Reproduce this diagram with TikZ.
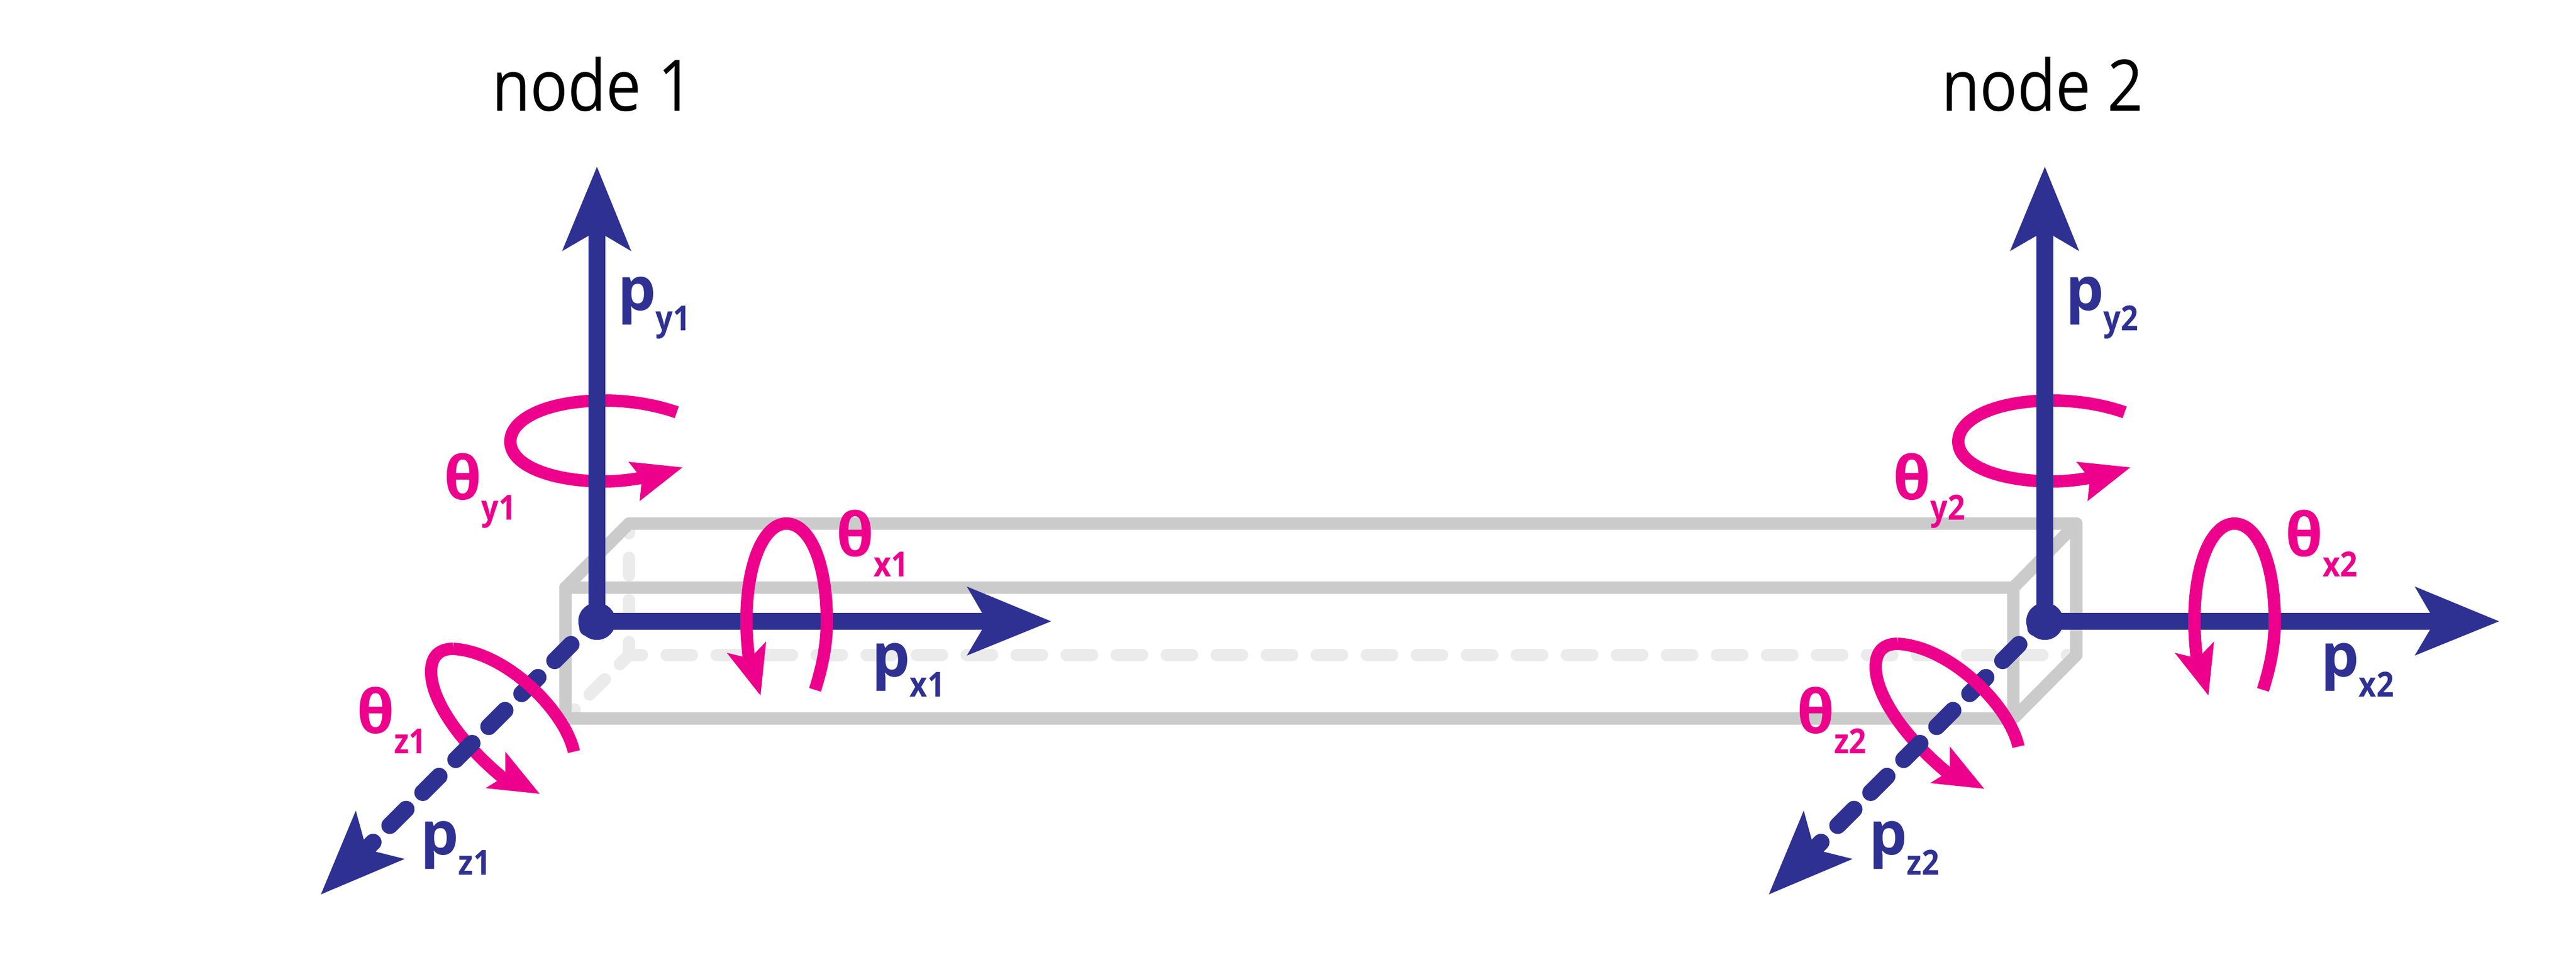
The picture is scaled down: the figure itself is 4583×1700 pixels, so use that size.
\documentclass[tikz,border=0pt]{standalone}
\usepackage{fontspec}
\setmainfont{Open Sans}
\newfontfamily\lab[FakeStretch=0.88]{Open Sans}
\definecolor{axisblue}{HTML}{2E3192}
\definecolor{rotpink}{HTML}{EC008C}
\definecolor{boxgray}{HTML}{CBCBCB}
\definecolor{hidgray}{HTML}{EBEBEB}
\tikzset{
  x=0.02cm,y=-0.02cm,
  boxedge/.style={draw=boxgray,line width=.44cm,line join=round,line cap=round},
  hidedge/.style={draw=hidgray,line width=.44cm,line cap=round},
  axisline/.style={draw=axisblue,line width=.6cm},
  axisdash/.style={draw=axisblue,line width=.6cm,line cap=round,dash pattern=on .82cm off .84cm,dash phase=.44cm},
  axishead/.style={fill=axisblue,draw=none},
  rotline/.style={draw=rotpink,line width=.44cm},
  rothead/.style={fill=rotpink,draw=none},
  nodedot/.style={circle,fill=axisblue,minimum size=1.32cm,inner sep=0pt,outer sep=0pt},
  caption/.style={anchor=base west,inner sep=0pt,outer sep=0pt,text=black,font=\lab\fontsize{72pt}{72pt}\selectfont},
  plabel/.style={anchor=base west,inner sep=0pt,outer sep=0pt,text=axisblue,font=\bfseries},
  tlabel/.style={anchor=base west,inner sep=0pt,outer sep=0pt,text=rotpink,font=\bfseries},
}
\newcommand{\bigsub}[2]{{\fontsize{61pt}{61pt}\selectfont #1}\raisebox{-21pt}{\lab\fontsize{35pt}{35pt}\selectfont #2}}
% #1 id, #2 x shift, #3 z-ring x shift, #4 z-ring y shift
\newcommand{\nodeframe}[4]{%
\begin{scope}[shift={(#2,0)}]
  \coordinate (yn#1) at (1062,411);
  \coordinate (yt#1) at (1062,297);
  \coordinate (xn#1) at (1756,1106);
  \coordinate (xt#1) at (1870,1106);
  \coordinate (zs#1) at (1059,1104);
  \coordinate (zn#1) at (652,1511);
  \coordinate (zt#1) at (571,1592);
  % rotation about y
  \draw[rotline] (1204,734) .. controls (1170,722) and (1125,713) .. (1075,713)
     .. controls (975,713) and (908,745) .. (908,786)
     .. controls (908,830) and (985,857) .. (1075,857)
     .. controls (1100,857) and (1125,854) .. (1150,849);
  \fill[rothead] (1214,832) -- (1118,822) -- (1142,852) -- (1138,892) -- cycle;
  % rotation about z, lower part
  \begin{scope}[shift={(#3,#4)}]
    \draw[rotline] (806,1155) .. controls (778,1155) and (767,1172) .. (767,1196)
       .. controls (767,1250) and (825,1330) .. (905,1393);
    \fill[rothead] (960,1413) -- (899,1338) -- (899,1381) -- (864,1403) -- cycle;
  \end{scope}
  % axes
  \node[nodedot] (n#1) at (1062,1106) {};
  \draw[axisline] (n#1.center) -- (yn#1);
  \fill[axishead] (yt#1) -- (1123,447) -- (yn#1) -- (1000,447) -- cycle;
  \draw[axisdash] (zs#1) -- (zn#1);
  \fill[axishead] (zt#1) -- (633,1443) -- (652,1512) -- (720,1529) -- cycle;
  \draw[axisline] (n#1.center) -- (xn#1);
  \fill[axishead] (xt#1) -- (1720,1167) -- (xn#1) -- (1720,1044) -- cycle;
  \node[nodedot] at (n#1.center) {};
  % rotation about z, upper part
  \begin{scope}[shift={(#3,#4)}]
    \draw[rotline] (1021,1338) .. controls (1005,1265) and (900,1160) .. (806,1155);
  \end{scope}
  % rotation about x
  \draw[rotline] (1450,1228) .. controls (1462,1190) and (1471,1150) .. (1471,1106)
     .. controls (1471,1000) and (1440,932) .. (1399,932)
     .. controls (1360,932) and (1328,1000) .. (1328,1106)
     .. controls (1328,1130) and (1330,1150) .. (1333,1180);
  \fill[rothead] (1353,1238) -- (1293,1162) -- (1334,1172) -- (1363,1142) -- cycle;
\end{scope}}
\begin{document}
\begin{tikzpicture}
\useasboundingbox (0,0) rectangle (4583,1700);
\fill[white] (0,0) rectangle (4583,1700);
% hidden edges of the beam
\coordinate (bl) at (1119,1166);
\coordinate (br) at (3694,1166);
\coordinate (tl) at (1119,932);
\coordinate (tr) at (3694,932);
\coordinate (fa) at (1006,1046);
\coordinate (fb) at (3582,1046);
\coordinate (fc) at (3582,1279);
\coordinate (fd) at (1006,1279);
\draw[hidedge,dash pattern=on .62cm off .88cm,dash phase=.28cm] (tl) -- (bl);
\draw[hidedge,dash pattern=on .76cm off .76cm,dash phase=.3cm] (bl) -- (fd);
\draw[hidedge,dash pattern=on .9cm off .88cm,dash phase=.44cm] (bl) -- (br);
% visible edges of the beam
\draw[boxedge] (fa) -- (fb) -- (fc) -- (fd) -- cycle;
\draw[boxedge] (fa) -- (tl) -- (tr) -- (fb);
\draw[boxedge] (tr) -- (br) -- (fc);
% node frames
\nodeframe{1}{0}{0}{0}
\nodeframe{2}{2576}{-6}{-9}
% captions
\node[caption] (cap1) at (875,197) {node 1};
\node[caption] (cap2) at (3454,197) {node 2};
% translation labels
\node[plabel] (py1) at (1099,552) {\bigsub{p}{y1}};
\node[plabel] (px1) at (1551,1204) {\bigsub{p}{x1}};
\node[plabel] (pz1) at (748,1521) {\bigsub{p}{z1}};
\node[plabel] (py2) at (3675,552) {\bigsub{p}{y2}};
\node[plabel] (px2) at (4129,1204) {\bigsub{p}{x2}};
\node[plabel] (pz2) at (3325,1521) {\bigsub{p}{z2}};
% rotation labels
\node[tlabel] (ty1) at (790,889) {\bigsub{θ}{y1}};
\node[tlabel] (tx1) at (1488,990) {\bigsub{θ}{x1}};
\node[tlabel] (tz1) at (635,1305) {\bigsub{θ}{z1}};
\node[tlabel] (ty2) at (3368,889) {\bigsub{θ}{y2}};
\node[tlabel] (tx2) at (4066,990) {\bigsub{θ}{x2}};
\node[tlabel] (tz2) at (3197,1305) {\bigsub{θ}{z2}};
\end{tikzpicture}
\end{document}
